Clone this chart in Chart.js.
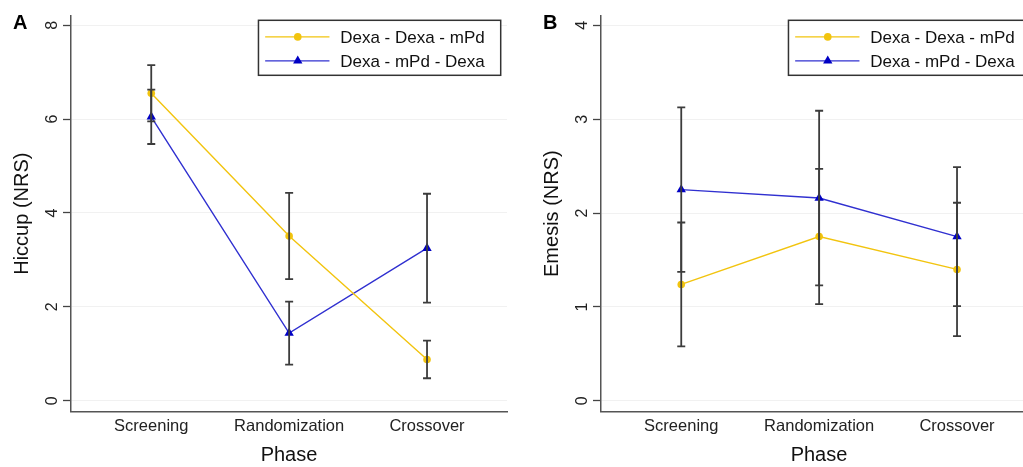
<!DOCTYPE html>
<html>
<head>
<meta charset="utf-8">
<script src="https://cdn.jsdelivr.net/npm/chart.js@4/dist/chart.umd.min.js"></script>
<style>
    html, body { margin: 0; padding: 0; background: #fff; }
    body { width: 1023px; height: 467px; overflow: hidden; position: relative; }
    canvas { position: absolute; top: 0; }
    #hiccup { left: 0; }
    #emesis { left: 530px; }
</style>
</head>
<body>
<canvas id="hiccup" width="515" height="467"></canvas>
<canvas id="emesis" width="515" height="467"></canvas>
<script>
// Phases on the x axis
const phases = ['Screening', 'Randomization', 'Crossover'];
const seriesNames = ['Dexa - Dexa - mPd', 'Dexa - mPd - Dexa'];

// Panel A - hiccup (mean and half-width of the error bar)
const hiccupDexaDexaMpd = [6.55, 3.51, 0.88];
const hiccupDexaDexaMpdErr = [0.60, 0.92, 0.40];
const hiccupDexaMpdDexa = [6.05, 1.44, 3.25];
const hiccupDexaMpdDexaErr = [0.58, 0.67, 1.16];
const hiccupTicks = [0, 2, 4, 6, 8];

// Panel B - emesis
const emesisDexaDexaMpd = [1.24, 1.75, 1.40];
const emesisDexaDexaMpdErr = [0.66, 0.72, 0.71];
const emesisDexaMpdDexa = [2.25, 2.16, 1.75];
const emesisDexaMpdDexaErr = [0.875, 0.93, 0.74];
const emesisTicks = [0, 1, 2, 3, 4];

const YELLOW = '#F2C40F';
const BLUE_LINE = '#3030D0';
const BLUE_MARK = '#0000C4';
const FONT = '"Liberation Sans", Arial, Helvetica, sans-serif';

Chart.defaults.font.family = FONT;
Chart.defaults.color = '#222';

// Error bars drawn on top of the lines, from each dataset's errors array
const errorBars = {
    id: 'errorBars',
    afterDatasetsDraw(chart) {
        const ctx = chart.ctx;
        const yScale = chart.scales.y;
        ctx.save();
        ctx.strokeStyle = '#3c3c3c';
        ctx.lineWidth = 1.8;
        chart.data.datasets.forEach((ds, d) => {
            const meta = chart.getDatasetMeta(d);
            meta.data.forEach((pt, i) => {
                const v = ds.data[i].y;
                const top = yScale.getPixelForValue(v + ds.errors[i]);
                const bot = yScale.getPixelForValue(v - ds.errors[i]);
                ctx.beginPath();
                ctx.moveTo(pt.x, top);
                ctx.lineTo(pt.x, bot);
                ctx.moveTo(pt.x - 4, top);
                ctx.lineTo(pt.x + 4, top);
                ctx.moveTo(pt.x - 4, bot);
                ctx.lineTo(pt.x + 4, bot);
                ctx.stroke();
            });
        });
        ctx.restore();
    }
};

// Boxed legend in the top right corner plus the panel letter
const boxLegend = {
    id: 'boxLegend',
    afterDraw(chart, args, opts) {
        const ctx = chart.ctx;
        const area = chart.chartArea;
        ctx.save();
        ctx.font = '17px ' + FONT;
        let textW = 0;
        chart.data.datasets.forEach(ds => {
            textW = Math.max(textW, ctx.measureText(ds.label).width);
        });
        const w = 81.7 + textW + 16;
        const h = 55;
        const right = area.right - 6.3;
        const left = right - w;
        const top = area.top + 4.7;

        ctx.fillStyle = '#fff';
        ctx.fillRect(left, top, w, h);
        ctx.strokeStyle = '#333';
        ctx.lineWidth = 1.5;
        ctx.strokeRect(left, top, w, h);

        chart.data.datasets.forEach((ds, i) => {
            const y = top + 16.6 + i * 24;
            ctx.strokeStyle = ds.borderColor;
            ctx.lineWidth = 1.3;
            ctx.beginPath();
            ctx.moveTo(left + 6.7, y);
            ctx.lineTo(left + 71, y);
            ctx.stroke();

            const mx = left + 39.3;
            ctx.fillStyle = ds.pointBackgroundColor;
            ctx.beginPath();
            if (ds.pointStyle === 'triangle') {
                const r = ds.pointRadius;
                ctx.moveTo(mx, y - r);
                ctx.lineTo(mx + r * 0.866, y + r * 0.5);
                ctx.lineTo(mx - r * 0.866, y + r * 0.5);
                ctx.closePath();
            } else {
                ctx.arc(mx, y, ds.pointRadius, 0, Math.PI * 2);
            }
            ctx.fill();

            ctx.fillStyle = '#111';
            ctx.textBaseline = 'middle';
            ctx.textAlign = 'left';
            ctx.fillText(ds.label, left + 81.7, y + 1);
        });

        ctx.fillStyle = '#000';
        ctx.font = 'bold 20px ' + FONT;
        ctx.textBaseline = 'middle';
        ctx.textAlign = 'left';
        ctx.fillText(opts.letter, 13, 23);
        ctx.restore();
    }
};

const makePanel = (canvasId, letter, yTitle, yMin, yMax, yTicks, series) => {
    const datasets = series.map((s, k) => ({
        label: seriesNames[k],
        data: s.values.map((v, i) => ({ x: i + 1, y: v })),
        errors: s.errors,
        borderColor: k === 0 ? YELLOW : BLUE_LINE,
        backgroundColor: k === 0 ? YELLOW : BLUE_MARK,
        pointBackgroundColor: k === 0 ? YELLOW : BLUE_MARK,
        pointBorderWidth: 0,
        pointStyle: k === 0 ? 'circle' : 'triangle',
        pointRadius: k === 0 ? 3.8 : 5.4,
        borderWidth: 1.4,
        tension: 0
    }));

    return new Chart(document.getElementById(canvasId), {
        type: 'line',
        data: { datasets: datasets },
        options: {
            responsive: false,
            animation: false,
            layout: { padding: { top: 13, right: 8, bottom: 0, left: 0 } },
            plugins: {
                legend: { display: false },
                tooltip: { enabled: false },
                boxLegend: { letter: letter }
            },
            scales: {
                x: {
                    type: 'linear',
                    min: 0.418,
                    max: 3.58,
                    afterBuildTicks: (s) => { s.ticks = phases.map((p, i) => ({ value: i + 1 })); },
                    afterFit: (s) => { s.height = 55.3; },
                    ticks: {
                        callback: (v, i) => phases[i],
                        autoSkip: false,
                        maxRotation: 0,
                        padding: 5,
                        color: '#222',
                        font: { size: 16.5 }
                    },
                    grid: { display: false, drawTicks: false },
                    border: { display: true, color: '#555', width: 1.5 },
                    title: {
                        display: true,
                        text: 'Phase',
                        color: '#111',
                        font: { size: 20 },
                        padding: { top: 0, bottom: 0 }
                    }
                },
                y: {
                    type: 'linear',
                    min: yMin,
                    max: yMax,
                    afterBuildTicks: (s) => { s.ticks = yTicks.map(v => ({ value: v })); },
                    afterFit: (s) => { s.width = 71; },
                    ticks: {
                        minRotation: 90,
                        maxRotation: 90,
                        crossAlign: 'center',
                        padding: 6,
                        color: '#222',
                        font: { size: 16 }
                    },
                    grid: {
                        color: '#f1f1f1',
                        lineWidth: 1,
                        tickColor: '#444',
                        tickLength: 8,
                        tickWidth: 1.3
                    },
                    border: { display: true, color: '#555', width: 1.5 },
                    title: {
                        display: true,
                        text: yTitle,
                        color: '#111',
                        font: { size: 20 },
                        padding: { top: 10, bottom: 0 }
                    }
                }
            }
        },
        plugins: [errorBars, boxLegend]
    });
};

makePanel('hiccup', 'A', 'Hiccup (NRS)', -0.233, 8.205, hiccupTicks, [
    { values: hiccupDexaDexaMpd, errors: hiccupDexaDexaMpdErr },
    { values: hiccupDexaMpdDexa, errors: hiccupDexaMpdDexaErr }
]);

makePanel('emesis', 'B', 'Emesis (NRS)', -0.115, 4.103, emesisTicks, [
    { values: emesisDexaDexaMpd, errors: emesisDexaDexaMpdErr },
    { values: emesisDexaMpdDexa, errors: emesisDexaMpdDexaErr }
]);
</script>
</body>
</html>
